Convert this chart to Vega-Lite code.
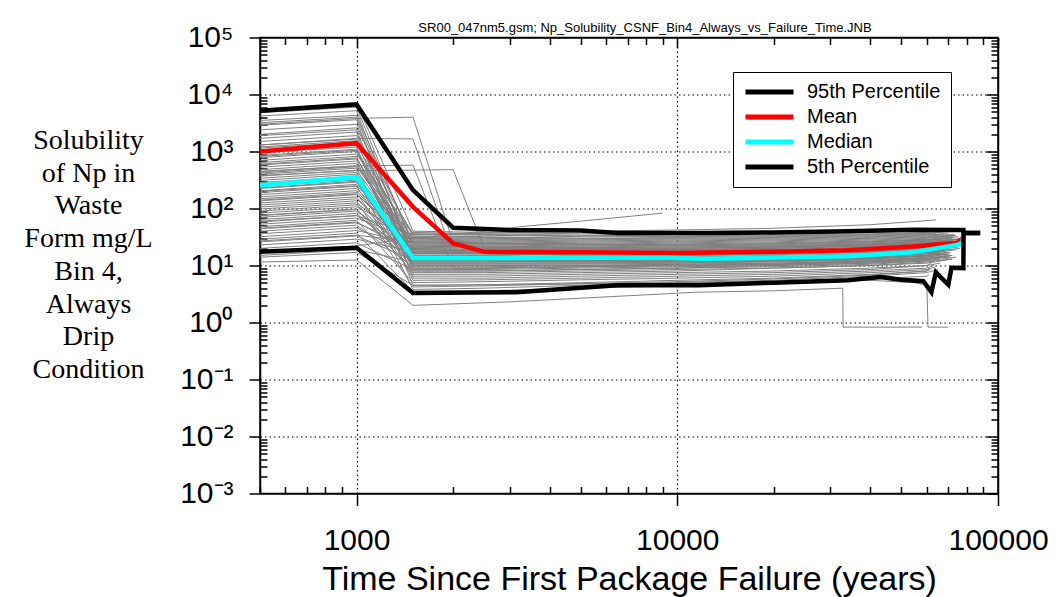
{
  "$schema": "https://vega.github.io/schema/vega-lite/v6.json",
  "width": 738,
  "height": 456,
  "autosize": {"type": "none"},
  "padding": {"left": 260, "top": 37.5, "right": 58, "bottom": 103.5},
  "background": "white",
  "config": {"font": "Liberation Sans", "view": {"stroke": "black", "strokeWidth": 1.5}},
  "title": {"text": "SR00_047nm5.gsm; Np_Solubility_CSNF_Bin4_Always_vs_Failure_Time.JNB", "fontSize": 13, "fontWeight": "normal", "font": "Liberation Sans", "color": "black", "anchor": "middle", "dx": 16, "offset": -12},
  "layer": [
    {
      "data": {"values": [
        {"i": 1, "x": [500,1000,1500,2500,5000,10000,20000,40000,60000,76000], "y": [5500,7000,40,38,36,35,36,38,40,42]},
        {"i": 2, "x": [500,1000,1500,2500,5000,10000,20000,40000,60000,70000], "y": [4200,5200,12,12,12,13,14,15,17,19]},
        {"i": 3, "x": [500,1000,1500,2500,5000,10000,20000,40000,60000,72000], "y": [3500,4300,25,24,23,22,22,24,26,28]},
        {"i": 4, "x": [500,1000,1500,2500,5000,10000,20000,40000,60000,65000], "y": [2900,3600,8,8,8.5,9,10,11,12,13]},
        {"i": 5, "x": [500,1000,1500,2500,5000,10000,20000,40000,60000,74000], "y": [2400,3000,18,18,17,17,18,20,22,24]},
        {"i": 6, "x": [500,1000,1500,2500,5000,10000,20000,40000,60000,68000], "y": [2000,2600,32,31,30,30,31,33,35,36]},
        {"i": 7, "x": [500,1000,1500,2500,5000,10000,20000,40000,60000,62000], "y": [1700,2200,6,6,6.5,7,7.5,8.5,10,11]},
        {"i": 8, "x": [500,1000,1500,2500,5000,10000,20000,40000,60000,75000], "y": [1500,1900,15,15,14,14,15,16,18,21]},
        {"i": 9, "x": [500,1000,1500,2500,5000,10000,20000,40000,60000,71000], "y": [1300,1650,22,21,20,20,21,23,25,27]},
        {"i": 10, "x": [500,1000,1500,2500,5000,10000,20000,40000,60000,66000], "y": [1150,1450,10,10,10,10.5,11,12,14,15]},
        {"i": 11, "x": [500,1000,1500,2500,5000,10000,20000,40000,60000,73000], "y": [1050,1300,28,27,26,25,26,28,30,33]},
        {"i": 12, "x": [500,1000,1500,2500,5000,10000,20000,40000,60000,61000], "y": [950,1200,4.5,4.6,5,5.5,6,7,8,9]},
        {"i": 13, "x": [500,1000,1500,2500,5000,10000,20000,40000,60000,77000], "y": [850,1100,19,18,18,17,17,19,21,24]},
        {"i": 14, "x": [500,1000,1500,2500,5000,10000,20000,40000,60000,69000], "y": [780,1000,13,13,12.5,12.5,13,14,16,18]},
        {"i": 15, "x": [500,1000,1500,2500,5000,10000,20000,40000,60000,64000], "y": [700,900,35,34,32,31,32,34,36,37]},
        {"i": 16, "x": [500,1000,1500,2500,5000,10000,20000,40000,60000,72000], "y": [640,820,7,7,7.5,8,9,10,11,13]},
        {"i": 17, "x": [500,1000,1500,2500,5000,10000,20000,40000,60000,75000], "y": [580,740,24,23,22,21,22,24,26,29]},
        {"i": 18, "x": [500,1000,1500,2500,5000,10000,20000,40000,60000,70000], "y": [530,680,11,11,11,11,12,13,15,16]},
        {"i": 19, "x": [500,1000,1500,2500,5000,10000,20000,40000,60000,67000], "y": [480,620,16,16,15,15,16,17,19,20]},
        {"i": 20, "x": [500,1000,1500,2500,5000,10000,20000,40000,60000,74000], "y": [440,560,30,29,28,27,28,30,32,34]},
        {"i": 21, "x": [500,1000,1500,2500,5000,10000,20000,40000,60000,63000], "y": [400,510,5.5,5.6,6,6.5,7,8,9,10]},
        {"i": 22, "x": [500,1000,1500,2500,5000,10000,20000,40000,60000,76000], "y": [370,470,20,19,19,18,19,21,23,26]},
        {"i": 23, "x": [500,1000,1500,2500,5000,10000,20000,40000,60000,71000], "y": [340,430,9,9,9.5,10,10.5,11.5,13,14]},
        {"i": 24, "x": [500,1000,1500,2500,5000,10000,20000,40000,60000,68000], "y": [310,400,14,14,13.5,13.5,14,15,17,19]},
        {"i": 25, "x": [500,1000,1500,2500,5000,10000,20000,40000,60000,73000], "y": [285,365,26,25,24,23,24,26,28,31]},
        {"i": 26, "x": [500,1000,1500,2500,5000,10000,20000,40000,60000,65000], "y": [265,340,3.8,4,4.5,5,5.5,6.5,7.5,8.5]},
        {"i": 27, "x": [500,1000,1500,2500,5000,10000,20000,40000,60000,77000], "y": [245,315,17,17,16,16,17,18,20,23]},
        {"i": 28, "x": [500,1000,1500,2500,5000,10000,20000,40000,60000,70000], "y": [225,290,12,12,11.5,11.5,12,13,15,17]},
        {"i": 29, "x": [500,1000,1500,2500,5000,10000,20000,40000,60000,62000], "y": [205,265,38,36,34,33,34,36,38,39]},
        {"i": 30, "x": [500,1000,1500,2500,5000,10000,20000,40000,60000,74000], "y": [190,245,8,8,8.5,9,9.5,10.5,12,14]},
        {"i": 31, "x": [500,1000,1500,2500,5000,10000,20000,40000,60000,72000], "y": [175,225,21,20,20,19,20,22,24,27]},
        {"i": 32, "x": [500,1000,1500,2500,5000,10000,20000,40000,60000,69000], "y": [160,205,15,15,14,14,14.5,16,18,20]},
        {"i": 33, "x": [500,1000,1500,2500,5000,10000,20000,40000,60000,66000], "y": [148,190,6.5,6.5,7,7.5,8,9,10,11]},
        {"i": 34, "x": [500,1000,1500,2500,5000,10000,20000,40000,60000,75000], "y": [136,175,27,26,25,24,25,27,29,32]},
        {"i": 35, "x": [500,1000,1500,2500,5000,10000,20000,40000,60000,71000], "y": [125,160,10.5,10.5,10.5,11,11.5,12.5,14,16]},
        {"i": 36, "x": [500,1000,1500,2500,5000,10000,20000,40000,60000,73000], "y": [115,148,18,18,17,17,17.5,19,21,24]},
        {"i": 37, "x": [500,1000,1500,2500,5000,10000,20000,40000,60000,61500], "y": [106,136,4.2,4.4,4.8,5.2,5.8,6.8,8,8.5]},
        {"i": 38, "x": [500,1000,1500,2500,5000,10000,20000,40000,60000,76000], "y": [98,125,23,22,21,21,22,24,26,29]},
        {"i": 39, "x": [500,1000,1500,2500,5000,10000,20000,40000,60000,68000], "y": [90,116,13.5,13.5,13,13,13.5,14.5,16,18]},
        {"i": 40, "x": [500,1000,1500,2500,5000,10000,20000,40000,60000,70000], "y": [83,107,33,32,30,29,30,32,34,36]},
        {"i": 41, "x": [500,1000,1500,2500,5000,10000,20000,40000,60000,72000], "y": [76,98,7.5,7.5,8,8.5,9,10,11.5,13]},
        {"i": 42, "x": [500,1000,1500,2500,5000,10000,20000,40000,60000,74000], "y": [70,90,19,19,18,18,18.5,20,22,25]},
        {"i": 43, "x": [500,1000,1500,2500,5000,10000,20000,40000,60000,67000], "y": [64,82,11,11,11,11.5,12,13,14.5,16]},
        {"i": 44, "x": [500,1000,1500,2500,5000,10000,20000,40000,60000,75000], "y": [58,75,16,16,15,15,15.5,17,19,22]},
        {"i": 45, "x": [500,1000,1500,2500,5000,10000,20000,40000,60000,71000], "y": [53,68,29,28,27,26,27,29,31,33]},
        {"i": 46, "x": [500,1000,1500,2500,5000,10000,20000,40000,60000,64000], "y": [48,62,5,5.2,5.6,6,6.5,7.5,8.5,9.5]},
        {"i": 47, "x": [500,1000,1500,2500,5000,10000,20000,40000,60000,73000], "y": [44,56,21,21,20,19,20,22,24,27]},
        {"i": 48, "x": [500,1000,1500,2500,5000,10000,20000,40000,60000,69000], "y": [40,51,9.5,9.5,10,10,10.5,11.5,13,15]},
        {"i": 49, "x": [500,1000,1500,2500,5000,10000,20000,40000,60000,76000], "y": [36,46,14.5,14.5,14,14,14.5,15.5,17,20]},
        {"i": 50, "x": [500,1000,1500,2500,5000,10000,20000,40000,60000,72000], "y": [32,41,25,24,23,22,23,25,27,30]},
        {"i": 51, "x": [500,1000,1500,2500,5000,10000,20000,40000,60000,61000], "y": [29,37,3.5,3.6,4,4.4,5,5.8,6.5,7]},
        {"i": 52, "x": [500,1000,1500,2500,5000,10000,20000,40000,60000,70000], "y": [26,33,12.5,12.5,12,12,12.5,13.5,15,17]},
        {"i": 53, "x": [500,1000,1500,2500,5000,10000,20000,40000,60000,74000], "y": [23,29,17.5,17.5,17,16.5,17,18.5,20,23]},
        {"i": 54, "x": [500,1000,1500,2500,5000,10000,20000,40000,60000,67000], "y": [20,25,8.5,8.5,9,9.5,10,11,12.5,14]},
        {"i": 55, "x": [500,1000,1500,2500,5000,10000,20000,40000,60000,73000], "y": [17.5,22,31,30,29,28,29,31,33,35]},
        {"i": 56, "x": [500,1000,1500,2500,5000,10000,20000,40000,60000,71000], "y": [15,19,11.5,11.5,11.5,12,12.5,13.5,15,17]},
        {"i": 57, "x": [500,1000,1500,2500,5000,10000,20000,40000,60000,78000], "y": [4800,6000,22,21,21,20,21,23,26,30]},
        {"i": 58, "x": [500,1000,1500,2500,5000,10000,20000,40000,60000,66000], "y": [3200,4000,14,14,13,13,14,15,17,19]},
        {"i": 59, "x": [500,1000,1500,2500,5000,10000,20000,40000,60000,72000], "y": [1900,2400,9,9,9.5,10,10.5,12,13,15]},
        {"i": 60, "x": [500,1000,1500,2500,5000,10000,20000,40000,60000,75000], "y": [1200,1550,36,35,33,32,33,35,37,40]},
        {"i": 61, "x": [500,1000,1500,2500,5000,10000,20000,40000,60000,69000], "y": [820,1050,16.5,16,15.5,15,16,17.5,19,21]},
        {"i": 62, "x": [500,1000,1500,2500,5000,10000,20000,40000,60000,74000], "y": [600,770,13,13,12.5,12.5,13,14,16,19]},
        {"i": 63, "x": [500,1000,1500,2500,5000,10000,20000,40000,60000,68000], "y": [420,540,23,22,21,20,21,23,25,27]},
        {"i": 64, "x": [500,1000,1500,2500,5000,10000,20000,40000,60000,71000], "y": [230,300,10,10,10,10.5,11,12,13.5,15]},
        {"i": 65, "x": [500,1000,1500,2500,5000,10000,20000,40000,60000,77000], "y": [140,180,20,19,19,18.5,19,21,23,26]},
        {"i": 66, "x": [500,1000,1500,2500,5000,10000,20000,40000,60000,66000], "y": [75,96,12,12,12,12,12.5,13.5,15,17]},
        {"i": 67, "x": [500,1000,1500,2500,5000,10000,20000,40000,60000,73000], "y": [45,58,17,17,16.5,16,16.5,18,20,23]},
        {"i": 68, "x": [500,1000,1500,2500,5000,10000,20000,40000,60000,70000], "y": [27,34,26,25,24,23,24,26,28,31]},
        {"i": 101, "x": [500,1000,1500,2000,2500,5000,10000,20000,40000,60000,70000], "y": [3000,3800,4000,25,24,23,23,24,26,28,30]},
        {"i": 102, "x": [500,1000,1500,2000,2500,5000,10000,20000,40000,60000,68000], "y": [1300,1700,1660,14,14,13.5,13.5,14,15.5,17,18]},
        {"i": 103, "x": [500,1000,1500,2000,3000,5000,10000,20000,40000,60000,72000], "y": [450,560,575,9,9,9.5,10,10.5,11.5,13,15]},
        {"i": 104, "x": [500,1000,2000,2500,5000,10000,20000,40000,60000,74000], "y": [380,460,480,20,19,19,20,22,24,27]},
        {"i": 105, "x": [500,1000,1500,2500,3250,5000,9000], "y": [200,250,30,40,48,60,83]},
        {"i": 106, "x": [500,1000,1500,5000,10000,20000,40000,64000], "y": [60,75,35,40,42,45,52,63]},
        {"i": 107, "x": [500,1000,1500,3000,11500,20000,32800,32900,58000], "y": [11.5,12.5,2.0,2.3,3.4,3.6,4.0,0.83,0.83]},
        {"i": 108, "x": [500,1000,1500,3000,10000,40000,55000,60000,60500,70000], "y": [14,17,4.5,4.6,5,5.5,5,4.5,0.83,0.83]}
      ]},
      "transform": [{"flatten": ["x", "y"]}],
      "mark": {"type": "line", "color": "#808080", "strokeWidth": 1, "clip": true},
      "encoding": {
        "x": {"field": "x", "type": "quantitative",
          "scale": {"type": "log", "domain": [500, 100000], "nice": false},
          "axis": {"orient": "bottom",
            "values": [500,600,700,800,900,1000,2000,3000,4000,5000,6000,7000,8000,9000,10000,20000,30000,40000,50000,60000,70000,80000,90000,100000],
            "labelExpr": "indexof([1000,10000,100000], datum.value) >= 0 ? format(datum.value, 'd') : ''",
            "labelFont": "Liberation Sans", "labelFontSize": 30, "labelColor": "black", "labelPadding": 20,
            "labelOverlap": false, "labelFlush": false, "labelBound": false,
            "tickColor": "black", "tickWidth": 1.5,
            "tickSize": {"condition": {"test": "indexof([1000,10000,100000], datum.value) >= 0", "value": 12}, "value": -7},
            "domainColor": "black", "domainWidth": 1.5,
            "grid": true, "gridColor": "black", "gridDash": [1.5, 3], "gridWidth": 1.2,
            "gridOpacity": {"condition": {"test": "indexof([1000,10000], datum.value) >= 0", "value": 1}, "value": 0},
            "title": "Time Since First Package Failure (years)",
            "titleFont": "Liberation Sans", "titleFontSize": 34, "titleFontWeight": "normal", "titleColor": "black",
            "titleBaseline": "alphabetic", "titleY": 96
          }
        },
        "y": {"field": "y", "type": "quantitative",
          "scale": {"type": "log", "domain": [0.001, 100000], "nice": false},
          "axis": {"orient": "left",
            "values": [0.001,0.002,0.003,0.004,0.005,0.006,0.007,0.008,0.009,0.01,0.02,0.03,0.04,0.05,0.06,0.07,0.08,0.09,0.1,0.2,0.3,0.4,0.5,0.6,0.7,0.8,0.9,1,2,3,4,5,6,7,8,9,10,20,30,40,50,60,70,80,90,100,200,300,400,500,600,700,800,900,1000,2000,3000,4000,5000,6000,7000,8000,9000,10000,20000,30000,40000,50000,60000,70000,80000,90000,100000],
            "labelExpr": "indexof([0.001,0.01,0.1,1,10,100,1000,10000,100000], datum.value) >= 0 ? ['10⁻³','10⁻²','10⁻¹','10⁰','10¹','10²','10³','10⁴','10⁵'][indexof([0.001,0.01,0.1,1,10,100,1000,10000,100000], datum.value)] : ''",
            "labelFont": "Liberation Sans", "labelFontSize": 30, "labelColor": "black", "labelPadding": 16,
            "labelOverlap": false, "labelFlush": false, "labelBound": false,
            "tickColor": "black", "tickWidth": 1.5,
            "tickSize": {"condition": {"test": "indexof([0.001,0.01,0.1,1,10,100,1000,10000,100000], datum.value) >= 0", "value": 11}, "value": -7},
            "domainColor": "black", "domainWidth": 1.5,
            "grid": true, "gridColor": "black", "gridDash": [1.5, 3], "gridWidth": 1.2,
            "gridOpacity": {"condition": {"test": "indexof([0.01,0.1,1,10,100,1000,10000], datum.value) >= 0", "value": 1}, "value": 0},
            "title": ["Solubility", "of Np in", "Waste", "Form mg/L", "Bin 4,", "Always", "Drip", "Condition"],
            "titleFont": "Liberation Serif", "titleFontSize": 28, "titleFontWeight": "normal", "titleColor": "black",
            "titleAngle": 0, "titleAlign": "center", "titleBaseline": "top", "titleX": -172, "titleY": 89, "titleLineHeight": 32.7
          }
        },
        "detail": {"field": "i", "type": "nominal"}
      }
    },
    {
      "data": {"values": [
        {"s": "95th Percentile", "x": [500,1000,1500,2000,3000,5000,6500,12000,20000,34000,54000,75000,78000,78100,88000], "y": [5200,6700,210,46,42,41,37,37,38,40,42.5,42,42,37,37]},
        {"s": "Mean", "x": [500,1000,1500,2000,2500,5000,10000,20000,34000,54000,74500,77500], "y": [1000,1400,107,24.5,17.4,17,16.5,17.5,18.5,21.5,25,30]},
        {"s": "Median", "x": [500,1000,1500,2500,9000,12000,34000,54000,74500,77500,78000], "y": [257,355,13.5,13.5,13.8,13.2,14.5,17,23,25,37]},
        {"s": "5th Percentile", "x": [500,1000,1500,3150,6500,11700,20000,34000,43000,50000,58500,62000,64000,70000,71600,78000,78100,88000], "y": [17.4,20.5,3.3,3.4,4.5,4.5,5,5.5,6.3,5.6,5.3,3.4,7.6,4.6,9.1,9,37,37]}
      ]},
      "transform": [{"flatten": ["x", "y"]}],
      "mark": {"type": "line", "strokeWidth": 4.5, "clip": true},
      "encoding": {
        "x": {"field": "x", "type": "quantitative",
          "scale": {"type": "log", "domain": [500, 100000], "nice": false},
          "axis": {"orient": "top",
            "values": [500,600,700,800,900,1000,2000,3000,4000,5000,6000,7000,8000,9000,10000,20000,30000,40000,50000,60000,70000,80000,90000,100000],
            "labels": false, "grid": false, "title": null,
            "tickColor": "black", "tickWidth": 1.5,
            "tickSize": {"condition": {"test": "indexof([1000,10000,100000], datum.value) >= 0", "value": -10}, "value": -7},
            "domainColor": "black", "domainWidth": 1.5
          }
        },
        "y": {"field": "y", "type": "quantitative",
          "scale": {"type": "log", "domain": [0.001, 100000], "nice": false},
          "axis": {"orient": "right",
            "values": [0.001,0.002,0.003,0.004,0.005,0.006,0.007,0.008,0.009,0.01,0.02,0.03,0.04,0.05,0.06,0.07,0.08,0.09,0.1,0.2,0.3,0.4,0.5,0.6,0.7,0.8,0.9,1,2,3,4,5,6,7,8,9,10,20,30,40,50,60,70,80,90,100,200,300,400,500,600,700,800,900,1000,2000,3000,4000,5000,6000,7000,8000,9000,10000,20000,30000,40000,50000,60000,70000,80000,90000,100000],
            "labels": false, "grid": false, "title": null,
            "tickColor": "black", "tickWidth": 1.5,
            "tickSize": {"condition": {"test": "indexof([0.001,0.01,0.1,1,10,100,1000,10000,100000], datum.value) >= 0", "value": -12}, "value": -7},
            "domainColor": "black", "domainWidth": 1.5
          }
        },
        "color": {"field": "s", "type": "nominal",
          "scale": {"domain": ["95th Percentile", "Mean", "Median", "5th Percentile"], "range": ["black", "#ff0000", "#00ffff", "black"]},
          "legend": {"orient": "none", "legendX": 473, "legendY": 34.5, "title": null,
            "symbolType": "stroke", "symbolSize": 2304, "symbolStrokeWidth": 5, "symbolOpacity": 1,
            "labelFont": "Liberation Sans", "labelFontSize": 20, "labelColor": "black", "labelOffset": 11,
            "clipHeight": 20, "rowPadding": 5, "padding": 10,
            "strokeColor": "black", "fillColor": "white"}
        }
      }
    }
  ],
  "resolve": {"axis": {"x": "independent", "y": "independent"}}
}
